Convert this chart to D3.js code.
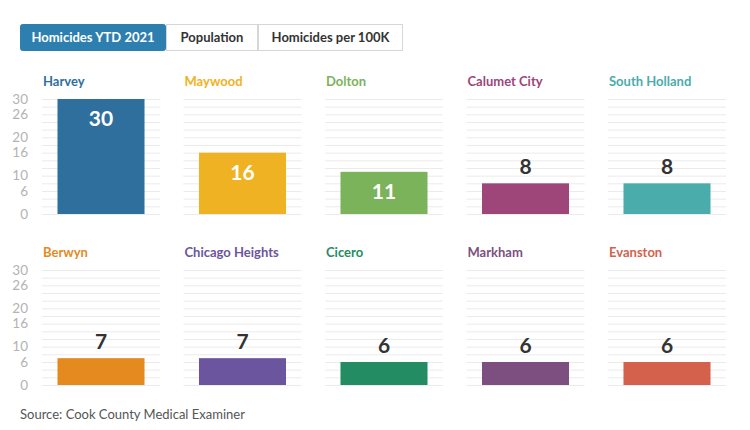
<html>
<head>
    <title>Homicides YTD 2021</title>
    <script src="https://d3js.org/d3.v7.min.js"></script>
    <style>
        body { margin:0; background:#fff; font-family:"Source Sans Pro", Lato, "Open Sans", sans-serif; }
        .grid line { stroke:#ebebeb; stroke-width:1; }
    </style>
</head>
<body>
    <svg id="chart" width="750" height="430"></svg>
    <script>
        var towns = ["Harvey","Maywood","Dolton","Calumet City","South Holland",
                     "Berwyn","Chicago Heights","Cicero","Markham","Evanston"];
        var homicides = [30,16,11,8,8,7,7,6,6,6];
        var colors = ["#2f6f9e","#efb222","#7bb35a","#9e4579","#4bacac",
                      "#e58a1e","#6a559e","#248c62","#7c4f80","#d4614c"];
        var tickValues = [0,6,10,16,20,26,30];
        var gridValues = d3.range(0,31,2);
        var buttons = ["Homicides YTD 2021","Population","Homicides per 100K"];

        var svg = d3.select("#chart");

        // toggle buttons
        var btnX = [20,166,258,403];
        var btns = svg.append("g");
        buttons.forEach(function(b,i){
            btns.append("rect")
                .attr("x", btnX[i]+0.5).attr("y", 24.5)
                .attr("width", btnX[i+1]-btnX[i]-1).attr("height", 26)
                .attr("rx", i==0 ? 2 : 0)
                .style("fill", i==0 ? "#2d7fb0" : "#fff")
                .style("stroke", i==0 ? "#2d7fb0" : "#d6d6d6");
            btns.append("text")
                .attr("x", (btnX[i]+btnX[i+1])/2).attr("y", 42)
                .attr("text-anchor","middle")
                .style("font-size","13px").style("font-weight","bold")
                .style("fill", i==0 ? "#fff" : "#333")
                .text(b);
        });

        var panelW = 118, panelH = 115;
        var colX = d3.scaleLinear().domain([0,1]).range([42,183.5]);
        var rowY = d3.scaleLinear().domain([0,1]).range([99,270]);
        var y = d3.scaleLinear().domain([0,30]).range([panelH,0]);

        towns.forEach(function(t,i){
            var col = i%5, row = Math.floor(i/5);
            var g = svg.append("g")
                .attr("transform","translate("+colX(col)+","+rowY(row)+")");
            var x = d3.scaleBand().domain([t]).range([0,panelW]).padding(0.151);

            g.append("text")
                .attr("x", 1).attr("y", -13)
                .style("font-size","13px").style("font-weight","bold")
                .style("fill", colors[i])
                .text(t);

            g.append("g").attr("class","grid")
                .selectAll("line").data(gridValues).enter().append("line")
                .attr("x1",0).attr("x2",panelW)
                .attr("y1",function(d){return y(d)+0.5;})
                .attr("y2",function(d){return y(d)+0.5;});

            if(col==0){
                var ax = g.append("g")
                    .attr("transform","translate(-10,0)")
                    .call(d3.axisLeft(y).tickValues(tickValues).tickSize(0).tickPadding(4));
                ax.select(".domain").remove();
                ax.selectAll("text")
                    .style("font-size","13.5px")
                    .style("font-family","\"Source Sans Pro\", Lato, \"Open Sans\", sans-serif")
                    .style("fill","#b3b3b3");
            }

            var v = homicides[i];
            g.append("rect")
                .attr("x", x(t)).attr("width", x.bandwidth())
                .attr("y", y(v)).attr("height", y(0)-y(v))
                .style("fill", colors[i]);

            var inside = v >= 10;
            g.append("text")
                .attr("x", x(t)+x.bandwidth()/2)
                .attr("y", inside ? y(v)+27 : y(v)-9)
                .attr("text-anchor","middle")
                .style("font-size","21px").style("font-weight","bold")
                .style("fill", inside ? "#fff" : "#333")
                .text(v);
        });

        svg.append("text")
            .attr("x",20).attr("y",419)
            .style("font-size","13px").style("fill","#555")
            .text("Source: Cook County Medical Examiner");
    </script>
</body>
</html>
